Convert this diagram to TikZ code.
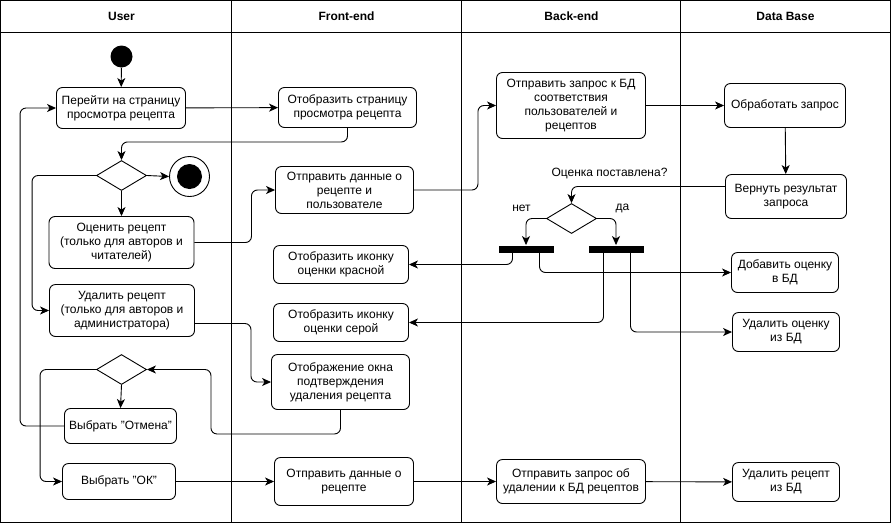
\documentclass[tikz,border=0pt]{standalone}
\usepackage{fontspec}
\setmainfont{Liberation Sans}
\usepackage{tikz}
\usetikzlibrary{shapes.geometric,arrows.meta}

\tikzset{
  act/.style={draw, rounded corners=6pt, align=center, inner sep=1pt},
  decision/.style={diamond, draw, minimum width=50pt, minimum height=30pt, inner sep=0pt},
  bar/.style={rectangle, fill=black, minimum width=55pt, minimum height=7pt, inner sep=0pt},
  flow/.style={->, rounded corners=6pt}
}

\begin{document}
\begin{tikzpicture}[x=1pt, y=-1pt, line width=0.9pt,
  >={Stealth[length=9pt, width=8pt, inset=2.5pt]},
  font=\fontsize{12}{14}\selectfont]
  \useasboundingbox (-0.5,-0.5) rectangle (890.5,522.5);

  \draw (0,0) rectangle (890,522);
  \draw (0,32) -- (890,32);
  \draw (231,0) -- (231,522);
  \draw (461,0) -- (461,522);
  \draw (680,0) -- (680,522);

  \node[font=\fontsize{12}{14}\selectfont\bfseries] (u) at (121,16) {User};
  \node[font=\fontsize{12}{14}\selectfont\bfseries] (f) at (346,16) {Front-end};
  \node[font=\fontsize{12}{14}\selectfont\bfseries] (b) at (571,16) {Back-end};
  \node[font=\fontsize{12}{14}\selectfont\bfseries] (d) at (785,16) {Data Base};

  \node[circle, fill=black, minimum size=22pt, inner sep=0pt] (S) at (121,56) {};
  \node[act, minimum width=129pt, minimum height=41pt] (A) at (120.5,107.5) {Перейти на страницу\\просмотра рецепта};
  \node[act, minimum width=138pt, minimum height=40pt] (B) at (347,107) {Отобразить страницу\\просмотра рецепта};
  \node[decision] (C) at (121,175) {};
  \node[circle, draw, minimum size=40pt, inner sep=0pt] (E) at (189,176) {};
  \fill (E.center) circle (12.5);
  \node[act, minimum width=145pt, minimum height=52pt] (F) at (121,242) {Оценить рецепт\\(только для авторов и\\читателей)};
  \node[act, minimum width=145pt, minimum height=52pt] (G) at (121.5,310) {Удалить рецепт\\(только для авторов и\\администратора)};
  \node[act, minimum width=138pt, minimum height=47pt] (H) at (344,189.5) {Отправить данные о\\рецепте и\\пользователе};
  \node[act, minimum width=135pt, minimum height=38pt] (J) at (340.5,264) {Отобразить иконку\\оценки красной};
  \node[act, minimum width=135pt, minimum height=38pt] (K) at (340.5,322) {Отобразить иконку\\оценки серой};
  \node[act, minimum width=138pt, minimum height=55pt] (I) at (340,381.5) {Отображение окна\\подтверждения\\удаления рецепта};
  \node[decision] (L) at (121,369) {};
  \node[act, minimum width=112pt, minimum height=35pt] (M) at (120,425.5) {Выбрать "Отмена"};
  \node[act, minimum width=113pt, minimum height=36pt] (N) at (118.5,481) {Выбрать "ОК"};
  \node[act, minimum width=139pt, minimum height=48pt] (O) at (343.5,481) {Отправить данные о\\рецепте};
  \node[act, minimum width=149pt, minimum height=66pt] (P) at (570.5,105) {Отправить запрос к БД\\соответствия\\пользователей и\\рецептов};
  \node[act, minimum width=121pt, minimum height=44pt] (Q) at (784.5,105) {Обработать запрос};
  \node[act, minimum width=121pt, minimum height=44pt] (R) at (785.5,196) {Вернуть результат\\запроса};
  \node[decision] (T) at (571,218) {};
  \node[bar] (V) at (525.5,248.5) {};
  \node[bar] (W) at (615.5,248.5) {};
  \node[act, minimum width=107pt, minimum height=40pt] (X) at (784.5,272) {Добавить оценку\\в БД};
  \node[act, minimum width=107pt, minimum height=39pt] (Y) at (785.5,331.5) {Удалить оценку\\из БД};
  \node[act, minimum width=149pt, minimum height=44pt] (Z) at (570.5,481) {Отправить запрос об\\удалении к БД рецептов};
  \node[act, minimum width=107pt, minimum height=39pt] (D) at (785.5,481.5) {Удалить рецепт\\из БД};

  \node (q) at (609,173) {Оценка поставлена?};
  \node (no) at (521,208) {нет};
  \node (yes) at (622,208) {да};

  \draw[flow] (S) -- (A);
  \draw[flow] (A) -- (B);
  \draw[flow] (B.south) -- ++(0,14) -| (C.north);
  \draw[flow] (C.east) -- (E.west);
  \draw[flow] (C.south) -- (F.north);
  \draw[flow] (C.west) -- ++(-64,0) |- (G.west);
  \draw[flow] (F.east) -- ++(57,0) |- (H.west);
  \draw[flow] ([yshift=-13pt]G.east) -- ++(56,0) |- (I.west);
  \draw[flow] (I.south) -- ++(0,24) -| ([xshift=64pt]L.east) -- (L.east);
  \draw[flow] (L.south) -- (M.north);
  \draw[flow] (M.west) -- ++(-44,0) |- (A.west);
  \draw[flow] (L.west) -- ++(-56,0) |- (N.west);
  \draw[flow] (N) -- (O);
  \draw[flow] (O) -- (Z);
  \draw[flow] (Z) -- (D);
  \draw[flow] (H.east) -- ++(64,0) |- (P.west);
  \draw[flow] (P) -- (Q);
  \draw[flow] (Q) -- (R);
  \draw[flow] ([yshift=10pt]R.west) -| (T.north);
  \draw[flow] (T.west) -| (V.north);
  \draw[flow] (T.east) -| (W.north);
  \draw[flow] ([xshift=-13.5pt]V.south) |- (J.east);
  \draw[flow] ([xshift=13.5pt]V.south) |- (X.west);
  \draw[flow] ([xshift=-12.5pt]W.south) |- (K.east);
  \draw[flow] ([xshift=14.5pt]W.south) |- (Y.west);
\end{tikzpicture}
\end{document}
